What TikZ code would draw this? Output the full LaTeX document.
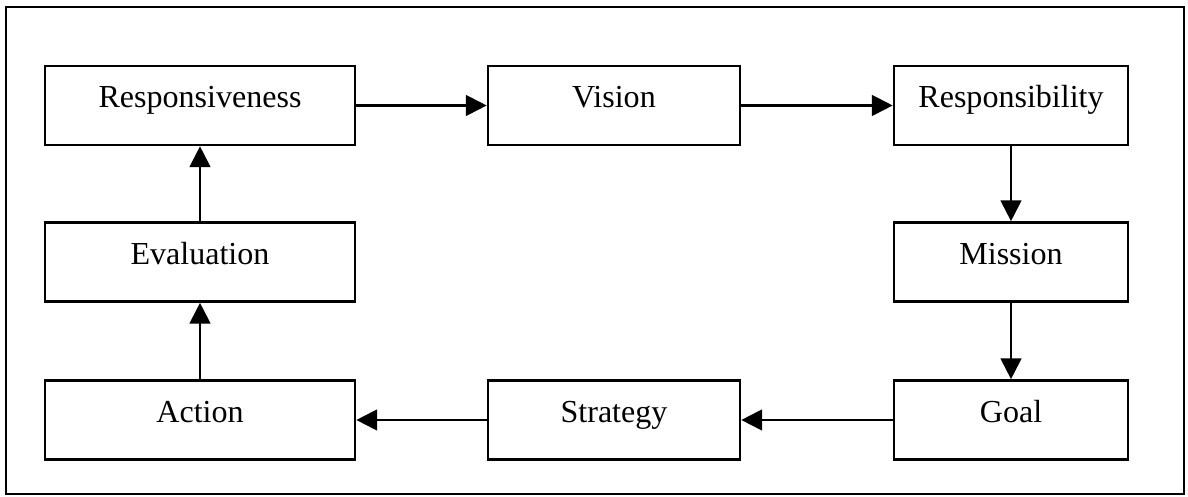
\documentclass[tikz,border=0pt]{standalone}
\usepackage{fontspec}
\setmainfont{Liberation Serif}
\usepackage{tikz}
\usetikzlibrary{arrows.meta}

\begin{document}
\begin{tikzpicture}[scale=1.0,
                    box/.style={draw, line width=1.9pt, inner sep=0pt, minimum height=1.975cm, text height=0.52cm, text depth=0.4cm, font=\fontsize{22.8pt}{27pt}\selectfont},
                    flow/.style={line width=1.5pt, -{Triangle[length=0.52cm, width=0.52cm]}}]
                    \useasboundingbox (0, 0) rectangle (29.7, 12.425);
                    \draw[line width=1.9pt] (0.15, 0.075) rectangle (29.6, 12.25);
                    
                    \node [box, minimum width=7.75cm] (resp) at (5.0, 9.7875) {Responsiveness};
                    \node [box, minimum width=6.3cm] (vision) at (15.35, 9.7875) {Vision};
                    \node [box, minimum width=5.85cm] (duty) at (25.275, 9.7875) {Responsibility};
                    \node [box, minimum width=5.85cm] (mission) at (25.275, 5.875) {Mission};
                    \node [box, minimum width=5.85cm] (goal) at (25.275, 1.925) {Goal};
                    \node [box, minimum width=6.3cm] (strategy) at (15.35, 1.925) {Strategy};
                    \node [box, minimum width=7.75cm] (action) at (5.0, 1.925) {Action};
                    \node [box, minimum width=7.75cm] (eval) at (5.0, 5.875) {Evaluation};
                    
                    \draw [flow] (resp) -- (vision);
                    \draw [flow] (vision) -- (duty);
                    \draw [flow] (duty) -- (mission);
                    \draw [flow] (mission) -- (goal);
                    \draw [flow] (goal) -- (strategy);
                    \draw [flow] (strategy) -- (action);
                    \draw [flow] (action) -- (eval);
                    \draw [flow] (eval) -- (resp);
                    \end{tikzpicture}
\end{document}
